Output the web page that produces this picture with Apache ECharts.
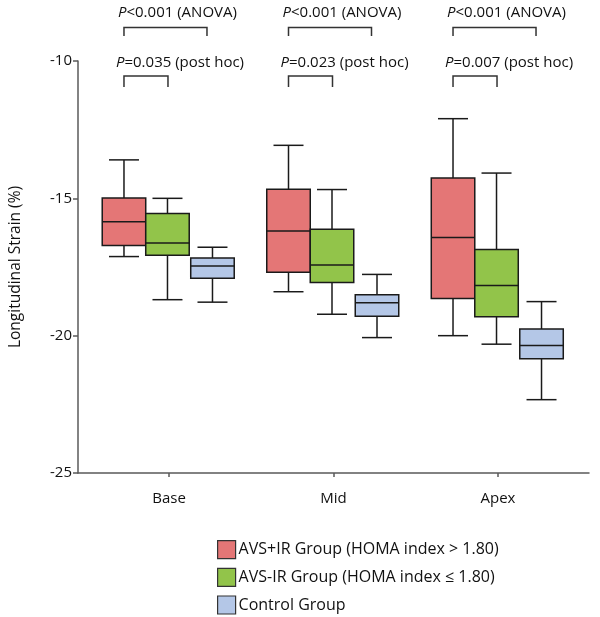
<!DOCTYPE html>
<html>
<head>
<meta charset="utf-8">
<script src="https://cdn.jsdelivr.net/npm/echarts@6/dist/echarts.min.js"></script>
<style>html,body{margin:0;padding:0;background:#fff;}#chart{width:600px;height:617px;}</style>
</head>
<body>
<div id="chart"></div>
<script>
// Data: [min, Q1, median, Q3, max] per region
var categories = ['Base', 'Mid', 'Apex'];
var groupNames = ['AVS+IR Group (HOMA index > 1.80)', 'AVS-IR Group (HOMA index \u2264 1.80)', 'Control Group'];
var avsIR = [
  [-17.12, -16.72, -15.85, -14.99, -13.60],
  [-18.40, -17.69, -16.19, -14.67, -13.07],
  [-20.00, -18.65, -16.43, -14.26, -12.10]
];
var avsNonIR = [
  [-18.69, -17.07, -16.63, -15.55, -15.00],
  [-19.22, -18.06, -17.43, -16.13, -14.68],
  [-20.31, -19.31, -18.17, -16.86, -14.08]
];
var control = [
  [-18.78, -17.91, -17.46, -17.17, -16.78],
  [-20.07, -19.29, -18.80, -18.51, -17.77],
  [-22.33, -20.84, -20.36, -19.76, -18.76]
];
var anovaLabels = ['<0.001', '<0.001', '<0.001'];
var postHocLabels = ['=0.035', '=0.023', '=0.007'];
var yTicks = [-25, -20, -15, -10];

var colors = ['#E47676', '#92C44A', '#B4C7E7'];
var offsets = [-45, -1.5, 43.5];
var BOXW = 43.5, CAPW = 30;
var FONT = '"Open Sans", sans-serif';

function boxSeries(name, values, gi) {
  return {
    type: 'custom',
    name: name,
    xAxisIndex: 0, yAxisIndex: 0,
    itemStyle: { color: colors[gi], borderColor: '#1a1a1a', borderWidth: 1.5 },
    encode: { x: 0, y: [1, 2, 3, 4, 5] },
    data: values.map(function (v, i) { return [i].concat(v); }),
    renderItem: function (params, api) {
      var idx = api.value(0);
      var pMin = api.coord([idx, api.value(1)]);
      var pQ1 = api.coord([idx, api.value(2)]);
      var pMed = api.coord([idx, api.value(3)]);
      var pQ3 = api.coord([idx, api.value(4)]);
      var pMax = api.coord([idx, api.value(5)]);
      var cx = pMin[0] + offsets[gi];
      var ls = { stroke: '#1a1a1a', lineWidth: 1.5 };
      return {
        type: 'group',
        children: [
          { type: 'line', shape: { x1: cx, y1: pMax[1], x2: cx, y2: pQ3[1] }, style: ls },
          { type: 'line', shape: { x1: cx, y1: pQ1[1], x2: cx, y2: pMin[1] }, style: ls },
          { type: 'line', shape: { x1: cx - CAPW / 2, y1: pMax[1], x2: cx + CAPW / 2, y2: pMax[1] }, style: ls },
          { type: 'line', shape: { x1: cx - CAPW / 2, y1: pMin[1], x2: cx + CAPW / 2, y2: pMin[1] }, style: ls },
          { type: 'rect', shape: { x: cx - BOXW / 2, y: pQ3[1], width: BOXW, height: pQ1[1] - pQ3[1] },
            style: { fill: colors[gi], stroke: '#1a1a1a', lineWidth: 1.5 } },
          { type: 'line', shape: { x1: cx - BOXW / 2, y1: pMed[1], x2: cx + BOXW / 2, y2: pMed[1] }, style: ls }
        ]
      };
    }
  };
}

var annotationSeries = {
  type: 'custom',
  name: 'annotations',
  xAxisIndex: 0, yAxisIndex: 0,
  clip: false,
  silent: true,
  encode: { x: 0, y: 1 },
  data: categories.map(function (c, i) { return [i, -10]; }),
  renderItem: function (params, api) {
    var idx = api.value(0);
    var p = api.coord([idx, -10]);
    var cx = p[0], top = p[1];
    var ls = { stroke: '#333', lineWidth: 1.5, fill: null };
    var rich = { i: { fontStyle: 'italic', fontSize: 15, fontFamily: FONT, fill: '#111' },
                 n: { fontSize: 15, fontFamily: FONT, fill: '#111' } };
    return {
      type: 'group',
      children: [
        { type: 'polyline', shape: { points: [[cx - 45, top - 25], [cx - 45, top - 33.5], [cx + 38, top - 33.5], [cx + 38, top - 25]] }, style: ls },
        { type: 'polyline', shape: { points: [[cx - 45, top + 26], [cx - 45, top + 15], [cx - 1, top + 15], [cx - 1, top + 26]] }, style: ls },
        { type: 'text', x: cx - 51, y: top - 48,
          style: { text: '{i|P}{n|' + anovaLabels[idx] + ' (ANOVA)}', rich: rich, verticalAlign: 'middle', align: 'left' } },
        { type: 'text', x: cx - 53, y: top + 2,
          style: { text: '{i|P}{n|' + postHocLabels[idx] + ' (post hoc)}', rich: rich, verticalAlign: 'middle', align: 'left' } }
      ]
    };
  }
};

var option = {
  animation: false,
  backgroundColor: '#ffffff',
  textStyle: { fontFamily: FONT },
  grid: [
    { left: 78, right: 11, top: 61, bottom: 144 },
    { left: 86.75, right: 19.75, top: 61, bottom: 144 }
  ],
  xAxis: [
    { type: 'value', gridIndex: 0, min: -0.553, max: 2.553,
      axisLine: { show: true, onZero: false, lineStyle: { color: '#5a5a5a', width: 1.5 } },
      axisTick: { show: false }, axisLabel: { show: false }, splitLine: { show: false } },
    { type: 'category', gridIndex: 1, data: categories, boundaryGap: true,
      axisLine: { show: false },
      axisTick: { show: true, alignWithLabel: true, length: 4, lineStyle: { color: '#5a5a5a', width: 1.5 } },
      axisLabel: { fontSize: 15, color: '#111', margin: 18, fontFamily: FONT } }
  ],
  yAxis: [
    { type: 'value', gridIndex: 0, min: -25, max: -10, interval: 5,
      name: 'Longitudinal Strain (%)', nameLocation: 'middle', nameGap: 54,
      nameTextStyle: { fontSize: 15.5, color: '#111', fontFamily: FONT },
      axisLine: { show: true, onZero: false, lineStyle: { color: '#5a5a5a', width: 1.5 } },
      axisTick: { show: true, length: 5, lineStyle: { color: '#5a5a5a', width: 1.5 } },
      axisLabel: { fontSize: 15, color: '#111', margin: 6, fontFamily: FONT,
        customValues: yTicks },
      splitLine: { show: false } },
    { type: 'value', gridIndex: 1, min: -25, max: -10, show: false }
  ],
  legend: {
    orient: 'vertical', left: 217, top: 540, height: 80, padding: 0,
    itemWidth: 18, itemHeight: 18, itemGap: 8.5,
    icon: 'rect',
    textStyle: { fontSize: 16, lineHeight: 18, color: '#111', fontFamily: FONT, padding: [0, 0, 0, -2] },
    data: groupNames.map(function (n, i) {
      return { name: n, itemStyle: { color: colors[i], borderColor: '#333', borderWidth: 1.2 } };
    })
  },
  series: [
    boxSeries(groupNames[0], avsIR, 0),
    boxSeries(groupNames[1], avsNonIR, 1),
    boxSeries(groupNames[2], control, 2),
    annotationSeries
  ]
};

var chart = echarts.init(document.getElementById('chart'), null, { renderer: 'canvas' });
chart.setOption(option);
</script>
</body>
</html>
